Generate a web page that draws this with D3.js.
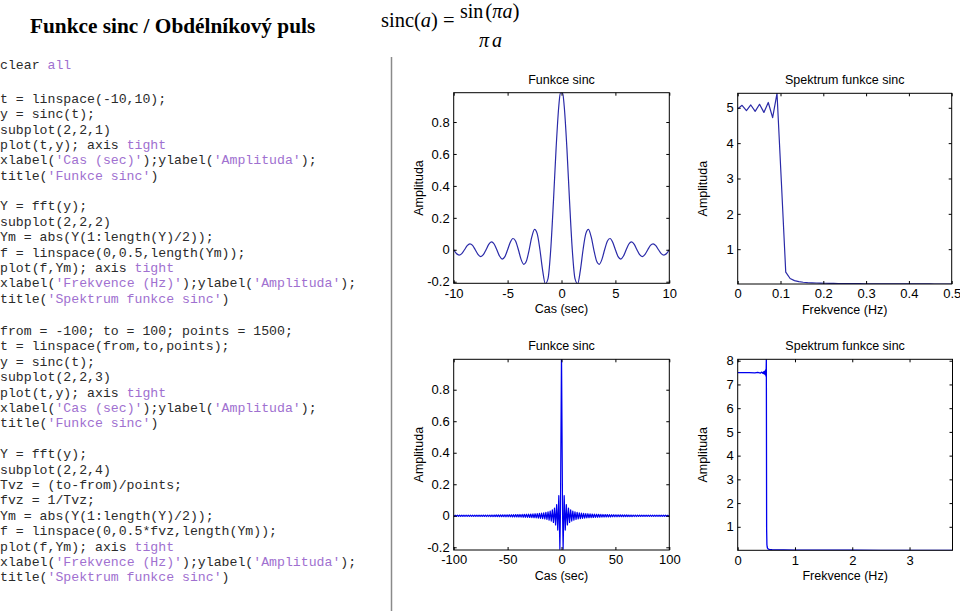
<!DOCTYPE html>
<html><head><meta charset="utf-8">
<script src="https://cdn.jsdelivr.net/npm/d3@7"></script>
<style>body{margin:0;background:#fff} svg{display:block;background:#fff}</style>
</head><body><svg id="c" width="960" height="611"></svg>
<script>
// ---------------- DATA ----------------
// Panel 1: sinc(t), t in [-10,10] (positive half, mirrored)
const p1PosT = [0.1,0.25,0.5,0.75,1,1.25,1.5,1.75,2,2.25,2.5,2.75,3,3.25,3.5,3.75,4,4.25,4.5,4.75,5,5.25,5.5,5.75,6,6.25,6.5,6.75,7,7.25,7.5,7.75,8,8.25,8.5,8.75,9,9.25,9.5,9.75,10];
const p1PosY = [0.9836,0.9003,0.6366,0.3001,0,-0.1801,-0.2122,-0.1286,0,0.1000,0.1273,0.0818,0,-0.0693,-0.0909,-0.0600,0,0.0530,0.0707,0.0474,0,-0.0429,-0.0579,-0.0391,0,0.0360,0.0490,0.0333,0,-0.0310,-0.0424,-0.0290,0,0.0273,0.0374,0.0257,0,-0.0243,-0.0335,-0.0231,0];
const p1YLim = [-0.2099, 0.9836];
const p1XTicks = [-10,-5,0,5,10];
const p1YTicks = [-0.2,0,0.2,0.4,0.6,0.8];

// Panel 2: spectrum |Y| of 100-point sinc, f = linspace(0,0.5,50)
const p2Ym = [4.97,5.07,4.92,5.08,4.90,5.10,4.87,5.15,4.72,5.41,2.90,0.35,0.17,0.11,0.08,0.065,0.055,0.048,0.043,0.039,0.036,0.033,0.031,0.029,0.027,0.026,0.025,0.024,0.023,0.022,0.021,0.020,0.020,0.019,0.019,0.018,0.018,0.017,0.017,0.017,0.016,0.016,0.016,0.016,0.016,0.015,0.015,0.015,0.015,0.015];
const p2FMax = 0.5;
const p2XTicks = [0,0.1,0.2,0.3,0.4,0.5];
const p2YTicks = [1,2,3,4,5];

// Panel 3: sinc(t), t in [-100,100], 1500 pts — lobe extremes (t = k+0.5, k=1..99)
const p3CenterT = [0.0667, 1];
const p3CenterY = [0.993, 0];
const p3Peaks = [-0.2122,0.1273,-0.0909,0.0707,-0.0579,0.0490,-0.0424,0.0374,-0.0335,0.0303,
 -0.0277,0.0255,-0.0236,0.0220,-0.0205,0.0193,-0.0182,0.0172,-0.0163,0.0155,
 -0.0148,0.0141,-0.0135,0.0130,-0.0125,0.0120,-0.0116,0.0112,-0.0108,0.0104,
 -0.0101,0.0098,-0.0095,0.0092,-0.0090,0.0087,-0.0085,0.0083,-0.0081,0.0079,
 -0.0077,0.0075,-0.0073,0.0072,-0.0070,0.0068,-0.0067,0.0066,-0.0064,0.0063,
 -0.0062,0.0061,-0.0059,0.0058,-0.0057,0.0056,-0.0055,0.0054,-0.0053,0.0053,
 -0.0052,0.0051,-0.0050,0.0049,-0.0049,0.0048,-0.0047,0.0046,-0.0046,0.0045,
 -0.0045,0.0044,-0.0043,0.0043,-0.0042,0.0042,-0.0041,0.0041,-0.0040,0.0040,
 -0.0039,0.0039,-0.0038,0.0038,-0.0037,0.0037,-0.0036,0.0036,-0.0036,0.0035,
 -0.0035,0.0034,-0.0034,0.0034,-0.0033,0.0033,-0.0033,0.0032,-0.0032];
const p3YLim = [-0.2172, 0.993];
const p3XTicks = [-100,-50,0,50,100];
const p3YTicks = [-0.2,0,0.2,0.4,0.6,0.8];

// Panel 4: spectrum of 1500-point sinc, f in [0, 3.75]
const p4F = [0,0.1,0.2,0.3,0.35,0.40,0.42,0.44,0.45,0.455,0.46,0.465,0.47,0.475,0.48,0.485,0.49,0.495,0.5,0.505,0.51,0.515,0.52,0.53,0.55,0.6,0.8,1.0,1.5,2,2.5,3,3.5,3.75];
const p4Ym = [7.5,7.5,7.5,7.49,7.51,7.48,7.52,7.47,7.53,7.46,7.54,7.45,7.55,7.43,7.58,7.40,7.62,7.35,8.06,0.9,0.25,0.15,0.1,0.07,0.05,0.035,0.025,0.02,0.015,0.012,0.011,0.01,0.01,0.01];
const p4XTicks = [0,1,2,3];
const p4YTicks = [1,2,3,4,5,6,7,8];

// Code listings
const codeHead = ["clear all"];
const codeTop = [
 "t = linspace(-10,10);","y = sinc(t);","subplot(2,2,1)","plot(t,y); axis tight",
 "xlabel('Cas (sec)');ylabel('Amplituda');","title('Funkce sinc')", null,
 "Y = fft(y);","subplot(2,2,2)","Ym = abs(Y(1:length(Y)/2));","f = linspace(0,0.5,length(Ym));",
 "plot(f,Ym); axis tight","xlabel('Frekvence (Hz)');ylabel('Amplituda');","title('Spektrum funkce sinc')"
];
const codeBottom = [
 "from = -100; to = 100; points = 1500;","t = linspace(from,to,points);","y = sinc(t);","subplot(2,2,3)",
 "plot(t,y); axis tight","xlabel('Cas (sec)');ylabel('Amplituda');","title('Funkce sinc')", null,
 "Y = fft(y);","subplot(2,2,4)","Tvz = (to-from)/points;","fvz = 1/Tvz;","Ym = abs(Y(1:length(Y)/2));",
 "f = linspace(0,0.5*fvz,length(Ym));","plot(f,Ym); axis tight","xlabel('Frekvence (Hz)');ylabel('Amplituda');","title('Spektrum funkce sinc')"
];

// ---------------- DRAW ----------------
const svg = d3.select("#c");
const SANS = "Liberation Sans, Arial, sans-serif";

// heading
svg.append("text").attr("x",30).attr("y",33)
  .style("font-family","Liberation Serif, Times New Roman, serif").style("font-weight","bold").style("font-size","21.3px")
  .text("Funkce sinc / Obdélníkový puls");

// formula
const ff = "Liberation Serif, Times New Roman, serif";
const f1 = svg.append("text").attr("x",381).attr("y",27).style("font-family",ff).style("font-size","20.5px");
f1.append("tspan").text("sinc(");
f1.append("tspan").style("font-style","italic").text("a");
f1.append("tspan").text(")");
f1.append("tspan").attr("dx",5).text("=");
const f2 = svg.append("text").attr("x",460).attr("y",18).style("font-family",ff).style("font-size","20px");
f2.append("tspan").text("sin");
f2.append("tspan").style("font-size","21px").attr("dx",2).text("(");
f2.append("tspan").style("font-style","italic").text("π");
f2.append("tspan").style("font-style","italic").text("a");
f2.append("tspan").style("font-size","21px").text(")");
const f3 = svg.append("text").attr("x",479).attr("y",47).style("font-family",ff).style("font-size","20px").style("font-style","italic");
f3.append("tspan").text("π");
f3.append("tspan").attr("dx",3).text("a");

// divider
svg.append("line").attr("x1",391.5).attr("x2",391.5).attr("y1",57).attr("y2",611)
  .attr("stroke","#8a8a8a").attr("stroke-width",1.5);

// code
function drawCode(lines, y0, step){
  lines.forEach((ln,i)=>{
    if(ln===null) return;
    const t = svg.append("text").attr("x",0).attr("y",y0+i*step+4)
      .style("font-family","Liberation Mono, Courier New, monospace").style("font-size","13.2px")
      .style("white-space","pre").attr("xml:space","preserve");
    ln.split(/('[^']*'|\ball\b|\btight\b)/).forEach(seg=>{
      if(!seg) return;
      const purple = /^'/.test(seg) || seg==="all" || seg==="tight";
      t.append("tspan").attr("fill", purple ? "#a070d0" : "#2a2a2a").text(seg);
    });
  });
}
drawCode(codeHead, 65, 15.4);
drawCode(codeTop, 99, 15.35);
drawCode(codeBottom, 331, 15.4);

function fmt(d){ return String(+d.toFixed(4)); }

let clipId = 0;
function panel(o){
  const x = d3.scaleLinear().domain(o.xd).range([o.l, o.r]);
  const y = d3.scaleLinear().domain(o.yd).range([o.b, o.t]);
  const g = svg.append("g");
  const id = "clip"+(clipId++);
  svg.append("clipPath").attr("id",id).append("rect")
    .attr("x",o.l).attr("y",o.t).attr("width",o.r-o.l).attr("height",o.b-o.t);
  g.append("path").datum(o.pts).attr("clip-path",`url(#${id})`)
    .attr("fill","none").attr("stroke",o.color).attr("stroke-width",o.sw)
    .attr("stroke-linejoin","round")
    .attr("d", d3.line().x(d=>x(d[0])).y(d=>y(d[1])).curve(o.curve||d3.curveLinear));
  const ax = (a)=>a.tickSizeInner(-3).tickSizeOuter(0);
  const gb = g.append("g").attr("transform",`translate(0,${o.b})`)
    .call(ax(d3.axisBottom(x)).tickValues(o.xt).tickFormat(fmt).tickPadding(5));
  const gt = g.append("g").attr("transform",`translate(0,${o.t})`)
    .call(ax(d3.axisTop(x)).tickValues(o.xt).tickFormat(""));
  const gl = g.append("g").attr("transform",`translate(${o.l},0)`)
    .call(ax(d3.axisLeft(y)).tickValues(o.yt).tickFormat(fmt).tickPadding(4));
  const gr = g.append("g").attr("transform",`translate(${o.r},0)`)
    .call(ax(d3.axisRight(y)).tickValues(o.yt).tickFormat(""));
  [gb,gt,gl,gr].forEach(a=>{
    a.selectAll(".domain").remove();
    a.selectAll("text").style("font-family",SANS).style("font-size","13px").attr("fill","#000");
    a.selectAll("line").attr("stroke","#000");
  });
  g.append("rect").attr("x",o.l).attr("y",o.t).attr("width",o.r-o.l).attr("height",o.b-o.t)
    .attr("fill","none").attr("stroke","#000").attr("stroke-width",1);
  g.append("text").attr("x",(o.l+o.r)/2).attr("y",o.t-9).attr("text-anchor","middle")
    .style("font-family",SANS).style("font-size","12.5px").text(o.title);
  g.append("text").attr("x",(o.l+o.r)/2).attr("y",o.b+30).attr("text-anchor","middle")
    .style("font-family",SANS).style("font-size","12.5px").text(o.xl);
  g.append("text").attr("transform",`translate(${o.l-31},${(o.t+o.b)/2}) rotate(-90)`)
    .attr("text-anchor","middle").style("font-family",SANS).style("font-size","12.5px").text("Amplituda");
}

// Panel 1
const p1T = p1PosT.slice().reverse().map(t=>-t).concat(p1PosT);
const p1Y = p1PosY.slice().reverse().concat(p1PosY);
panel({l:453.7,r:669.3,t:92.7,b:283.3, xd:[-10,10], yd:p1YLim, xt:p1XTicks, yt:p1YTicks,
  pts:p1T.map((t,i)=>[t,p1Y[i]]), color:"#2a2aa8", sw:1.2, curve:d3.curveMonotoneX,
  title:"Funkce sinc", xl:"Cas (sec)"});

// Panel 2
const p2F = p2Ym.map((v,i)=>i*p2FMax/(p2Ym.length-1));
panel({l:737.7,r:951.7,t:93.3,b:284, xd:[0,p2FMax], yd:[d3.min(p2Ym),d3.max(p2Ym)], xt:p2XTicks, yt:p2YTicks,
  pts:p2F.map((f,i)=>[f,p2Ym[i]]), color:"#2a2aa8", sw:1.2,
  title:"Spektrum funkce sinc", xl:"Frekvence (Hz)"});

// Panel 3
const p3PeakT = d3.range(1.5, 100, 1);
const p3PosT = p3CenterT.concat(p3PeakT, [100]);
const p3PosY = p3CenterY.concat(p3Peaks, [0]);
const p3T = p3PosT.slice().reverse().map(t=>-t).concat(p3PosT);
const p3Y = p3PosY.slice().reverse().concat(p3PosY);
panel({l:453.7,r:669.3,t:359.3,b:550, xd:[-100,100], yd:p3YLim, xt:p3XTicks, yt:p3YTicks,
  pts:p3T.map((t,i)=>[t,p3Y[i]]), color:"#0000ee", sw:1.2,
  title:"Funkce sinc", xl:"Cas (sec)"});

// Panel 4
panel({l:737.7,r:952.5,t:359.3,b:550.3, xd:[0,d3.max(p4F)], yd:[d3.min(p4Ym),d3.max(p4Ym)], xt:p4XTicks, yt:p4YTicks,
  pts:p4F.map((f,i)=>[f,p4Ym[i]]), color:"#0000ee", sw:1.3,
  title:"Spektrum funkce sinc", xl:"Frekvence (Hz)"});
</script></body></html>
